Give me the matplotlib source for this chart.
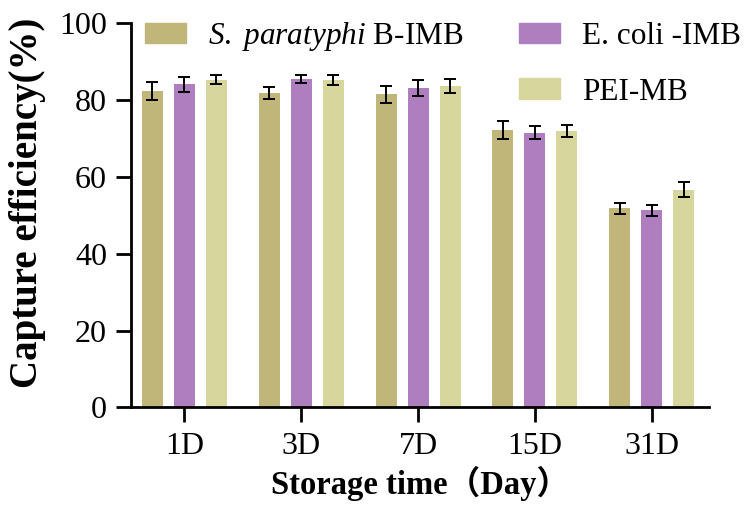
import numpy as np
import matplotlib
matplotlib.use("Agg")
import matplotlib.pyplot as plt
from matplotlib.patches import Patch

plt.rcParams['font.family'] = ['Liberation Serif', 'Noto Sans CJK SC', 'DejaVu Sans']
plt.rcParams['mathtext.fontset'] = 'custom'
plt.rcParams['mathtext.rm'] = 'Liberation Serif'
plt.rcParams['mathtext.it'] = 'Liberation Serif:italic'

days = ['1D', '3D', '7D', '15D', '31D']
series = [r'$\mathit{S.\ paratyphi}$ B-IMB', 'E. coli -IMB', 'PEI-MB']

salm = [82.3, 81.9, 81.5, 72.2, 51.8]
salm_err = [2.3, 1.6, 2.2, 2.3, 1.4]
ecoli = [84.1, 85.5, 83.2, 71.5, 51.3]
ecoli_err = [1.9, 1.0, 2.0, 1.7, 1.5]
pei = [85.3, 85.2, 83.7, 71.9, 56.7]
pei_err = [1.2, 1.3, 1.8, 1.6, 1.9]

colors = ['#C1B67A', '#AF7EBF', '#D7D69C']

fig = plt.figure(figsize=(7.48, 5.23), dpi=100)
ax = fig.add_axes([0.1747, 0.2212, 0.7732, 0.7342])

x = np.arange(len(days))
w = 0.18
step = 0.274
for i, (vals, errs) in enumerate([(salm, salm_err), (ecoli, ecoli_err), (pei, pei_err)]):
    ax.bar(x + (i - 1) * step, vals, width=w, color=colors[i])
    ax.errorbar(x + (i - 1) * step, vals, yerr=errs, fmt='none', ecolor='black',
                elinewidth=1.4, capsize=4.5, capthick=1.4)

ax.set_xlim(-0.459, 4.49)
ax.set_ylim(0, 100)
ax.set_yticks([0, 20, 40, 60, 80, 100])
ax.set_xticks(x)
ax.set_xticklabels(days)
for s in ['top', 'right']:
    ax.spines[s].set_visible(False)
for s in ['left', 'bottom']:
    ax.spines[s].set_linewidth(2.0)
ax.tick_params(axis='both', length=11, width=2.0, labelsize=23, pad=6)
ax.tick_params(axis='x', pad=7)

ax.set_xlabel('Storage time（Day）', fontsize=23.5, fontweight='bold', labelpad=3)
fig.text(0.037, 0.613, 'Capture efficiency(%)', rotation=90, fontsize=28,
         fontweight='bold', ha='center', va='center')

handles = [Patch(color=colors[0]), Patch(color='none'),
           Patch(color=colors[1]), Patch(color=colors[2])]
labels = [series[0], '', series[1], series[2]]
fig.legend(handles, labels, ncol=2, loc='upper left', bbox_to_anchor=(145 / 748, 1 - 20 / 523),
           frameon=False, fontsize=22.5, handlelength=1.3, handleheight=0.62,
           handletextpad=0.72, columnspacing=1.78, labelspacing=0.85,
           borderpad=0, borderaxespad=0)

fig.savefig('out.png', dpi=100)
